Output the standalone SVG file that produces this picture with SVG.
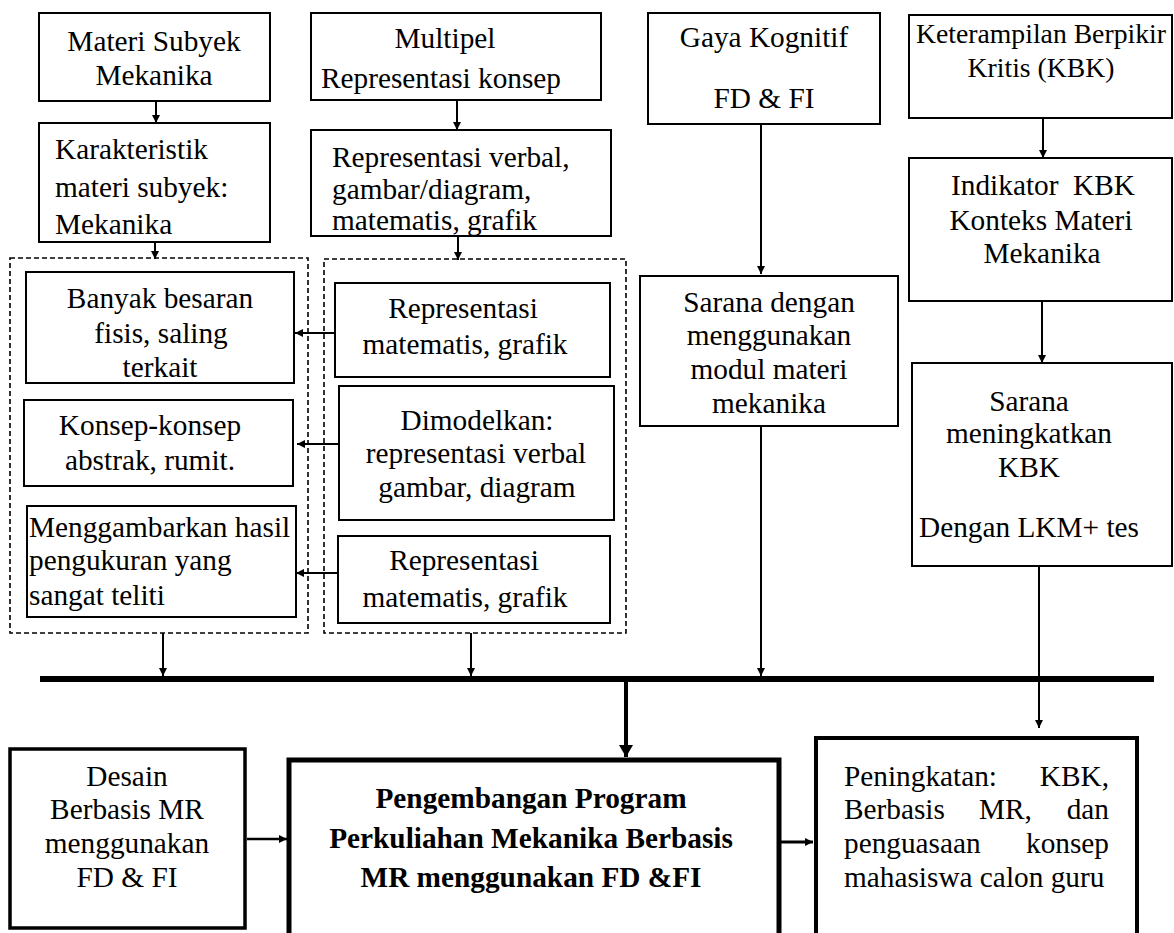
<svg xmlns="http://www.w3.org/2000/svg" width="1174" height="933" viewBox="0 0 1174 933" font-family="'Liberation Serif', 'Times New Roman', Times, serif">
<style>
.bx{fill:#fff;stroke:#000;stroke-width:2}
.dash{fill:none;stroke:#000;stroke-width:1.6;stroke-dasharray:5,3}
.ln{fill:none;stroke:#000;stroke-width:2}
text{font-family:'Liberation Serif','Times New Roman',Times,serif;font-size:29.3px;fill:#000}
.c{text-anchor:middle}
.e{text-anchor:end}
.b{font-weight:bold}
.s{font-size:27.7px}
</style>
<defs>
<marker id="ah" markerUnits="userSpaceOnUse" markerWidth="10" markerHeight="10" refX="8" refY="4" orient="auto">
<path d="M0,0 L8,4 L0,8 z" fill="#000"/>
</marker>
<marker id="ahb" markerUnits="userSpaceOnUse" markerWidth="16" markerHeight="16" refX="12" refY="7" orient="auto">
<path d="M0,0 L12,7 L0,14 z" fill="#000"/>
</marker>
</defs>
<rect width="1174" height="933" fill="#fff"/>

<g id="connectors">
<line class="ln" x1="156" y1="101" x2="156" y2="123" marker-end="url(#ah)"/>
<line class="ln" x1="155" y1="242" x2="155" y2="259" marker-end="url(#ah)"/>
<line class="ln" x1="457" y1="100" x2="457" y2="130" marker-end="url(#ah)"/>
<line class="ln" x1="458" y1="236" x2="458" y2="260" marker-end="url(#ah)"/>
<line class="ln" x1="761" y1="124" x2="761" y2="274" marker-end="url(#ah)"/>
<line class="ln" x1="761" y1="426" x2="761" y2="676" marker-end="url(#ah)"/>
<line class="ln" x1="1043" y1="118" x2="1043" y2="158" marker-end="url(#ah)"/>
<line class="ln" x1="1042" y1="301" x2="1042" y2="363" marker-end="url(#ah)"/>
<line class="ln" x1="1039" y1="566" x2="1039" y2="728" marker-end="url(#ah)"/>
<line class="ln" x1="335" y1="333" x2="295" y2="333" marker-end="url(#ah)"/>
<line class="ln" x1="339" y1="444" x2="297" y2="444" marker-end="url(#ah)"/>
<line class="ln" x1="338" y1="573" x2="296" y2="573" marker-end="url(#ah)"/>
<line class="ln" x1="163" y1="633" x2="163" y2="676" marker-end="url(#ah)"/>
<line class="ln" x1="471" y1="633" x2="471" y2="676" marker-end="url(#ah)"/>
<line x1="40" y1="679" x2="1154" y2="679" stroke="#000" stroke-width="6"/>
<line x1="626" y1="682" x2="626" y2="757" stroke="#000" stroke-width="4" marker-end="url(#ahb)"/>
<line x1="247" y1="839" x2="287" y2="839" stroke="#000" stroke-width="2.5" marker-end="url(#ah)"/>
<line x1="780" y1="842" x2="813" y2="842" stroke="#000" stroke-width="3" marker-end="url(#ah)"/>
</g>

<rect class="dash" x="10" y="258" width="298" height="375"/>
<rect class="dash" x="324" y="259" width="302" height="374"/>

<g id="materi">
<rect class="bx" x="39" y="13" width="231" height="88"/>
<text class="c" x="154" y="51">Materi Subyek</text>
<text class="c" x="154" y="85">Mekanika</text>
</g>
<g id="karakteristik">
<rect class="bx" x="39" y="123" width="231" height="119"/>
<text x="55" y="159">Karakteristik</text>
<text x="55" y="197">materi subyek:</text>
<text x="55" y="234">Mekanika</text>
</g>
<g id="multipel">
<rect class="bx" x="311" y="13" width="290" height="87"/>
<text class="c" x="445" y="48">Multipel</text>
<text class="c" x="441" y="88">Representasi konsep</text>
</g>
<g id="repverbal">
<rect class="bx" x="311" y="130" width="300" height="106"/>
<text x="332" y="167">Representasi verbal,</text>
<text x="332" y="199">gambar/diagram,</text>
<text x="332" y="230">matematis, grafik</text>
</g>
<g id="gaya">
<rect class="bx" x="648" y="13" width="232" height="111"/>
<text class="c" x="764" y="47">Gaya Kognitif</text>
<text class="c" x="764" y="108">FD &amp; FI</text>
</g>
<g id="keterampilan">
<rect class="bx" x="909" y="15" width="263" height="103"/>
<text class="c s" x="1041" y="43">Keterampilan Berpikir</text>
<text class="c s" x="1041" y="77">Kritis (KBK)</text>
</g>
<g id="indikator">
<rect class="bx" x="909" y="158" width="263" height="143"/>
<text class="c" x="1043" y="195" xml:space="preserve">Indikator  KBK</text>
<text class="c" x="1041" y="230">Konteks Materi</text>
<text class="c" x="1042" y="263">Mekanika</text>
</g>
<g id="banyak">
<rect class="bx" x="26" y="272" width="268" height="111"/>
<text class="c" x="160" y="308">Banyak besaran</text>
<text class="c" x="161" y="343">fisis, saling</text>
<text class="c" x="160" y="377">terkait</text>
</g>
<g id="konsep">
<rect class="bx" x="24" y="400" width="269" height="86"/>
<text class="c" x="150" y="435">Konsep-konsep</text>
<text class="c" x="150" y="470">abstrak, rumit.</text>
</g>
<g id="menggambarkan">
<rect class="bx" x="27" y="506" width="269" height="111"/>
<text x="29" y="537">Menggambarkan hasil</text>
<text x="29" y="570">pengukuran yang</text>
<text x="29" y="605">sangat teliti</text>
</g>
<g id="rep1">
<rect class="bx" x="335" y="283" width="275" height="94"/>
<text class="c" x="463" y="318">Representasi</text>
<text class="c" x="465" y="354">matematis, grafik</text>
</g>
<g id="dimodelkan">
<rect class="bx" x="339" y="386" width="275" height="134"/>
<text class="c" x="477" y="430">Dimodelkan:</text>
<text class="c" x="476" y="463">representasi verbal</text>
<text class="c" x="477" y="497">gambar, diagram</text>
</g>
<g id="rep3">
<rect class="bx" x="338" y="536" width="272" height="87"/>
<text class="c" x="464" y="570">Representasi</text>
<text class="c" x="465" y="607">matematis, grafik</text>
</g>
<g id="sarana-modul">
<rect class="bx" x="640" y="276" width="258" height="150"/>
<text class="c" x="769" y="312">Sarana dengan</text>
<text class="c" x="769" y="345">menggunakan</text>
<text class="c" x="769" y="379">modul materi</text>
<text class="c" x="769" y="413">mekanika</text>
</g>
<g id="sarana-kbk">
<rect class="bx" x="912" y="363" width="260" height="203"/>
<text class="c" x="1029" y="411">Sarana</text>
<text class="c" x="1029" y="443">meningkatkan</text>
<text class="c" x="1029" y="477">KBK</text>
<text x="919" y="537">Dengan LKM+ tes</text>
</g>
<g id="desain">
<rect x="10" y="749" width="235" height="179" fill="#fff" stroke="#000" stroke-width="3.5"/>
<text class="c" x="127" y="786">Desain</text>
<text class="c" x="127" y="819">Berbasis MR</text>
<text class="c" x="127" y="853">menggunakan</text>
<text class="c" x="127" y="887">FD &amp; FI</text>
</g>
<g id="pengembangan">
<rect x="289" y="760" width="490" height="190" fill="#fff" stroke="#000" stroke-width="5"/>
<text class="c b" x="531" y="808">Pengembangan Program</text>
<text class="c b" x="531" y="848">Perkuliahan Mekanika Berbasis</text>
<text class="c b" x="531" y="887">MR menggunakan FD &amp;FI</text>
</g>
<g id="peningkatan">
<rect x="816" y="738" width="321" height="210" fill="#fff" stroke="#000" stroke-width="4"/>
<text x="844" y="786">Peningkatan:</text>
<text class="e" x="1109" y="786">KBK,</text>
<text x="844" y="819">Berbasis</text>
<text x="979" y="819">MR,</text>
<text class="e" x="1109" y="819">dan</text>
<text x="844" y="853">penguasaan</text>
<text class="e" x="1109" y="853">konsep</text>
<text x="844" y="887">mahasiswa calon guru</text>
</g>
</svg>
